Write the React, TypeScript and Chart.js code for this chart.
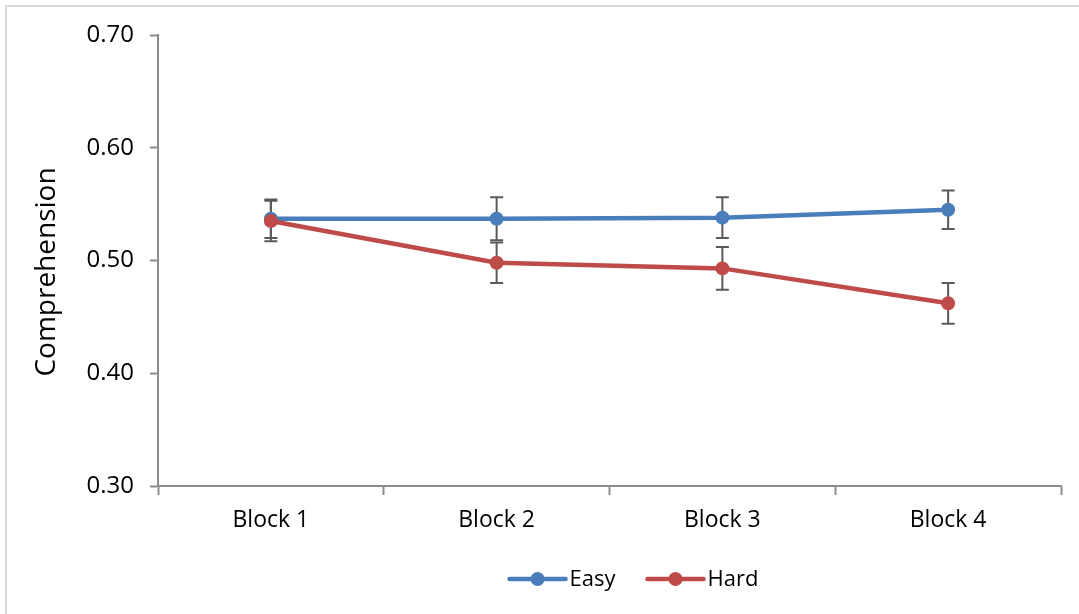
import React, { useEffect, useRef } from "react";
import { Chart, registerables } from "chart.js";

Chart.register(...registerables);

const categories = ["Block 1", "Block 2", "Block 3", "Block 4"];
const seriesNames = ["Easy", "Hard"];
const easyValues = [0.537, 0.537, 0.538, 0.545];
const hardValues = [0.535, 0.498, 0.493, 0.462];
const easyErrors = [0.017, 0.019, 0.018, 0.017];
const hardErrors = [0.018, 0.018, 0.019, 0.018];
const yTicks = [0.3, 0.4, 0.5, 0.6, 0.7];
const yTitle = "Comprehension";

const FONT = "'Open Sans', 'Liberation Sans', sans-serif";
const BLUE = "#4A7EBB";
const RED = "#BE4B48";
const AXIS = "#8C8C8C";

const errorBarPlugin = {
  id: "errorBars",
  beforeDatasetsDraw(chart: any) {
    const { ctx, scales } = chart;
    const x = scales.x;
    const y = scales.y;
    ctx.save();
    ctx.strokeStyle = "#5A5A5A";
    ctx.lineWidth = 2;
    chart.data.datasets.forEach((ds: any) => {
      const errs: number[] = ds.errors || [];
      ds.data.forEach((v: number, i: number) => {
        const e = errs[i];
        if (e == null) return;
        const px = x.getPixelForValue(i);
        const top = y.getPixelForValue(v + e);
        const bot = y.getPixelForValue(v - e);
        ctx.beginPath();
        ctx.moveTo(px, top);
        ctx.lineTo(px, bot);
        ctx.moveTo(px - 6.5, top);
        ctx.lineTo(px + 6.5, top);
        ctx.moveTo(px - 6.5, bot);
        ctx.lineTo(px + 6.5, bot);
        ctx.stroke();
      });
    });
    ctx.restore();
  },
};

const titleAndLegendPlugin = {
  id: "titleLegend",
  afterDraw(chart: any) {
    const { ctx } = chart;
    ctx.save();
    ctx.font = `28px ${FONT}`;
    ctx.fillStyle = "#000";
    ctx.textAlign = "center";
    ctx.textBaseline = "middle";
    ctx.translate(47, 272);
    ctx.rotate(-Math.PI / 2);
    ctx.fillText(yTitle, 0, 0);
    ctx.restore();

    ctx.save();
    ctx.font = `22px ${FONT}`;
    ctx.textBaseline = "middle";
    ctx.textAlign = "left";
    const lineLen = 56;
    const gapText = 4;
    const gapItems = 32;
    const items = chart.data.datasets.map((ds: any) => ({
      label: ds.label,
      color: ds.borderColor,
      w: lineLen + gapText + ctx.measureText(ds.label).width,
    }));
    const total =
      items.reduce((s: number, it: any) => s + it.w, 0) + gapItems * (items.length - 1);
    let cx = 634 - total / 2;
    const cy = 579;
    items.forEach((it: any) => {
      ctx.strokeStyle = it.color;
      ctx.lineWidth = 4.5;
      ctx.lineCap = "round";
      ctx.beginPath();
      ctx.moveTo(cx, cy);
      ctx.lineTo(cx + lineLen, cy);
      ctx.stroke();
      ctx.fillStyle = it.color;
      ctx.beginPath();
      ctx.arc(cx + lineLen / 2, cy, 7, 0, Math.PI * 2);
      ctx.fill();
      ctx.fillStyle = "#000";
      ctx.fillText(it.label, cx + lineLen + gapText, cy + 1);
      cx += it.w + gapItems;
    });
    ctx.restore();
  },
};

export default function App() {
  const canvasRef = useRef<HTMLCanvasElement | null>(null);

  useEffect(() => {
    if (!canvasRef.current) return;
    const chart = new Chart(canvasRef.current, {
      type: "line",
      data: {
        labels: categories,
        datasets: [
          {
            label: seriesNames[0],
            data: easyValues,
            errors: easyErrors,
            borderColor: BLUE,
            backgroundColor: BLUE,
            borderWidth: 4.5,
            pointRadius: 7,
            pointBorderWidth: 0,
            pointBackgroundColor: BLUE,
            tension: 0,
            order: 2,
          } as any,
          {
            label: seriesNames[1],
            data: hardValues,
            errors: hardErrors,
            borderColor: RED,
            backgroundColor: RED,
            borderWidth: 4.5,
            pointRadius: 7,
            pointBorderWidth: 0,
            pointBackgroundColor: RED,
            tension: 0,
            order: 1,
          } as any,
        ],
      },
      options: {
        responsive: false,
        animation: false,
        devicePixelRatio: 1,
        layout: { padding: { top: 35, right: 18, left: 0, bottom: 0 } },
        plugins: {
          legend: { display: false },
          tooltip: { enabled: false },
          title: { display: false },
        },
        scales: {
          x: {
            type: "category",
            offset: true,
            grid: {
              offset: true,
              drawOnChartArea: false,
              drawTicks: true,
              tickLength: 9,
              tickColor: AXIS,
              tickWidth: 2,
            },
            border: { color: AXIS, width: 2 },
            ticks: {
              color: "#000",
              font: { family: FONT, size: 23 },
              padding: 12,
              maxRotation: 0,
            },
            afterFit: (s: any) => {
              s.height = 128;
            },
          },
          y: {
            min: 0.3,
            max: 0.7,
            grid: {
              drawOnChartArea: false,
              drawTicks: true,
              tickLength: 8,
              tickColor: AXIS,
              tickWidth: 2,
            },
            border: { color: AXIS, width: 2 },
            ticks: {
              color: "#000",
              font: { family: FONT, size: 24 },
              padding: 16,
              callback: (v: any) => Number(v).toFixed(2),
            },
            afterBuildTicks: (s: any) => {
              s.ticks = yTicks.map((v) => ({ value: v }));
            },
            afterFit: (s: any) => {
              s.width = 158;
            },
          },
        },
      } as any,
      plugins: [errorBarPlugin, titleAndLegendPlugin],
    });
    return () => chart.destroy();
  }, []);

  return (
    <div
      style={{
        position: "absolute",
        left: 0,
        top: 0,
        width: 1079,
        height: 614,
        overflow: "hidden",
        background: "#fff",
      }}
    >
      <div
        style={{
          position: "absolute",
          left: 5,
          top: 5,
          width: 1100,
          height: 700,
          borderLeft: "2px solid #D9D9D9",
          borderTop: "2px solid #D9D9D9",
        }}
      />
      <canvas
        ref={canvasRef}
        width={1079}
        height={614}
        style={{ position: "absolute", left: 0, top: 0, width: 1079, height: 614 }}
      />
    </div>
  );
}
